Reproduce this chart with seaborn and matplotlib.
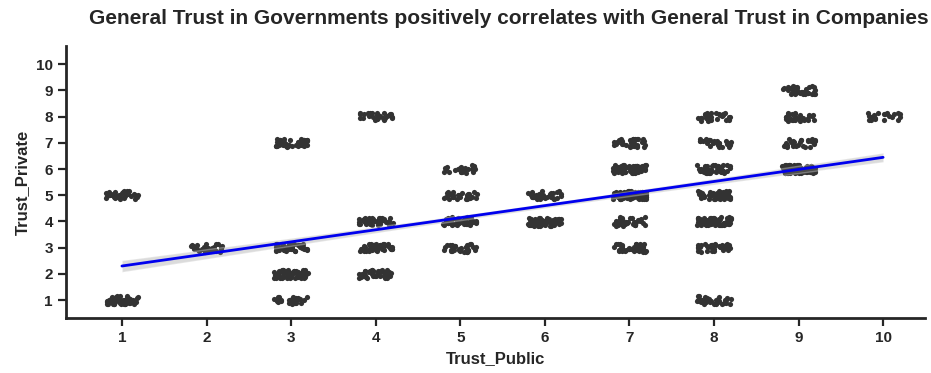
import numpy as np
import pandas as pd
import matplotlib
matplotlib.use("Agg")
import matplotlib.pyplot as plt
from matplotlib.collections import PolyCollection
import seaborn as sns

# Survey responses: each (public, private) answer pair and how many respondents gave it
trust_public = [1, 1, 2, 3, 3, 3, 3, 4, 4, 4, 4, 5, 5, 5, 5, 6, 6,
                7, 7, 7, 7, 7, 8, 8, 8, 8, 8, 8, 8, 9, 9, 9, 9, 10]
trust_private = [5, 1, 3, 7, 3, 2, 1, 8, 4, 3, 2, 6, 5, 4, 3, 5, 4,
                 7, 6, 5, 4, 3, 8, 7, 6, 5, 4, 3, 1, 9, 8, 7, 6, 8]
respondents = [35, 60, 30, 45, 45, 75, 30, 30, 35, 55, 50, 25, 30, 50, 35, 35, 70,
               35, 60, 80, 35, 40, 30, 30, 50, 55, 80, 40, 35, 35, 30, 30, 90, 20]

df = pd.DataFrame({
    "Trust_Public": np.repeat(trust_public, respondents),
    "Trust_Private": np.repeat(trust_private, respondents),
})

sns.set_theme(style="ticks")
plt.rcParams["font.family"] = ["Liberation Sans", "DejaVu Sans"]
plt.rcParams["font.weight"] = "bold"

np.random.seed(3)
fig = plt.figure(figsize=(9.31, 3.73), dpi=100)
ax = fig.add_axes([0.071, 0.147, 0.923, 0.73])

sns.regplot(data=df, x="Trust_Public", y="Trust_Private", ax=ax,
            x_jitter=0.2, y_jitter=0.16, color="#333333",
            scatter_kws={"s": 14, "alpha": 1, "linewidths": 0},
            line_kws={"color": "#0000ee", "lw": 2})

# grey confidence band around the fitted line
for coll in ax.collections:
    if isinstance(coll, PolyCollection):
        coll.set_facecolor("#888888")
        coll.set_alpha(0.3)

ax.set_xlim(0.34, 10.5)
ax.set_ylim(0.31, 10.7)
ax.set_xticks(range(1, 11))
ax.set_yticks(range(1, 11))
ax.tick_params(labelsize=11, width=1.6, length=6)
for lbl in ax.get_xticklabels() + ax.get_yticklabels():
    lbl.set_fontweight("bold")
for side in ("left", "bottom"):
    ax.spines[side].set_linewidth(2)
sns.despine(ax=ax)

ax.set_xlabel("Trust_Public", fontsize=12, fontweight="bold")
ax.set_ylabel("Trust_Private", fontsize=12, fontweight="bold")
fig.suptitle("General Trust in Governments positively correlates with General Trust in Companies",
             x=0.547, y=0.975, fontsize=15, fontweight="bold")

fig.savefig("out.png", dpi=100)
